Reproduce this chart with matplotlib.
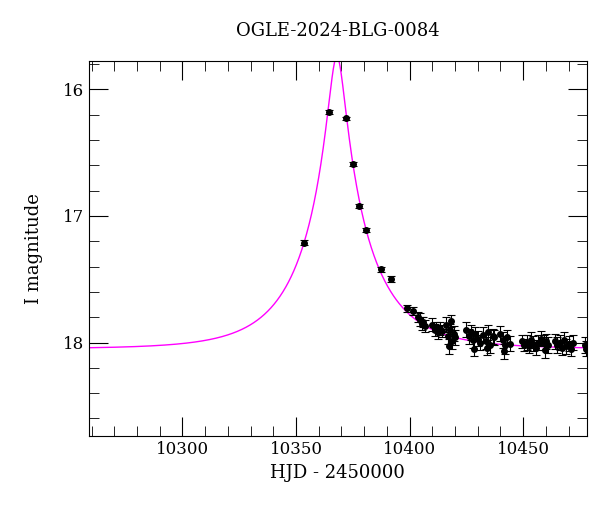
import numpy as np
import matplotlib
matplotlib.use("Agg")
import matplotlib.pyplot as plt
from matplotlib.ticker import MultipleLocator

# observed photometry (HJD - 2450000, I mag, error)
hjd = [10353.5, 10364.5, 10372.0, 10375.0, 10377.6, 10380.7, 10387.3, 10392.0,
       10399.0, 10401.6, 10403.5, 10404.5, 10405.3, 10406.0, 10406.8,
       10410.0, 10411.0, 10411.8, 10412.6, 10413.4, 10414.3,
       10416.2, 10417.0, 10417.8, 10418.6, 10419.4, 10420.0, 10417.5, 10418.2,
       10425.0, 10426.0, 10427.0, 10428.0, 10429.0, 10430.0, 10431.0, 10428.5,
       10432.5, 10433.5, 10434.5, 10435.5, 10436.5, 10437.3, 10434.0,
       10440.0, 10441.0, 10442.0, 10443.0, 10444.0, 10441.5,
       10449.5, 10450.5, 10451.5, 10452.5, 10453.5, 10454.5, 10455.5, 10456.5,
       10458.0, 10459.0, 10460.0, 10461.0, 10459.5,
       10464.0, 10465.0, 10466.0, 10467.0, 10468.0, 10469.0, 10470.0, 10471.0, 10472.0,
       10477.0, 10477.5]
mag = [17.21, 16.18, 16.23, 16.59, 16.92, 17.11, 17.42, 17.50,
       17.73, 17.75, 17.80, 17.82, 17.85, 17.84, 17.87,
       17.86, 17.90, 17.88, 17.92, 17.89, 17.91,
       17.86, 17.95, 17.90, 17.99, 17.93, 17.96, 18.03, 17.83,
       17.90, 17.95, 17.92, 17.98, 17.93, 17.97, 18.00, 18.05,
       17.94, 17.99, 17.92, 18.02, 17.95, 17.96, 18.04,
       17.93, 17.98, 18.02, 17.96, 18.01, 18.07,
       17.99, 18.02, 18.00, 18.03, 17.98, 18.01, 18.04, 18.00,
       17.97, 18.00, 17.99, 18.02, 18.06,
       17.99, 18.02, 18.00, 18.04, 17.98, 18.03, 18.01, 18.05, 18.00,
       18.02, 18.05]
err = [0.02, 0.015, 0.015, 0.015, 0.015, 0.015, 0.02, 0.025,
       0.03, 0.03, 0.04, 0.05, 0.05, 0.04, 0.05,
       0.05, 0.05, 0.04, 0.05, 0.05, 0.05,
       0.06, 0.06, 0.05, 0.06, 0.06, 0.06, 0.06, 0.05,
       0.06, 0.06, 0.06, 0.06, 0.05, 0.06, 0.06, 0.06,
       0.06, 0.06, 0.06, 0.06, 0.06, 0.06, 0.06,
       0.06, 0.06, 0.07, 0.06, 0.06, 0.06,
       0.05, 0.05, 0.06, 0.05, 0.06, 0.06, 0.06, 0.06,
       0.06, 0.06, 0.06, 0.06, 0.06,
       0.06, 0.06, 0.06, 0.06, 0.06, 0.06, 0.06, 0.06, 0.06,
       0.06, 0.06]

# point-lens model parameters
t0 = 10368.0
tE = 29.5
u0 = 0.12
base_mag = 18.05

plt.rcParams["font.family"] = "DejaVu Serif"
fig = plt.figure(figsize=(6.0, 5.12), dpi=100)
ax = fig.add_axes([0.148, 0.148, 0.83, 0.732])

t = np.linspace(10255, 10490, 2000)
u = np.sqrt(u0**2 + ((t - t0) / tE) ** 2)
A = (u**2 + 2) / (u * np.sqrt(u**2 + 4))
ax.plot(t, base_mag - 2.5 * np.log10(A), color="magenta", lw=1)

ax.errorbar(hjd, mag, yerr=err, fmt="o", ms=4, color="black",
            ecolor="black", elinewidth=0.8, capsize=3, capthick=0.8)

ax.set_xlim(10258.8, 10478)
ax.set_ylim(18.74, 15.78)
ax.xaxis.set_major_locator(MultipleLocator(50))
ax.xaxis.set_minor_locator(MultipleLocator(10))
ax.yaxis.set_major_locator(MultipleLocator(1))
ax.yaxis.set_minor_locator(MultipleLocator(0.2))
ax.tick_params(which="both", direction="in", top=True, right=True, labelsize=12)
ax.tick_params(which="major", length=14)
ax.tick_params(which="minor", length=7)
ax.set_xlabel("HJD - 2450000", fontsize=13)
ax.set_ylabel("I magnitude", fontsize=13, labelpad=14)
ax.set_title("OGLE-2024-BLG-0084", fontsize=13, pad=18)

fig.savefig("out.png", dpi=100)
